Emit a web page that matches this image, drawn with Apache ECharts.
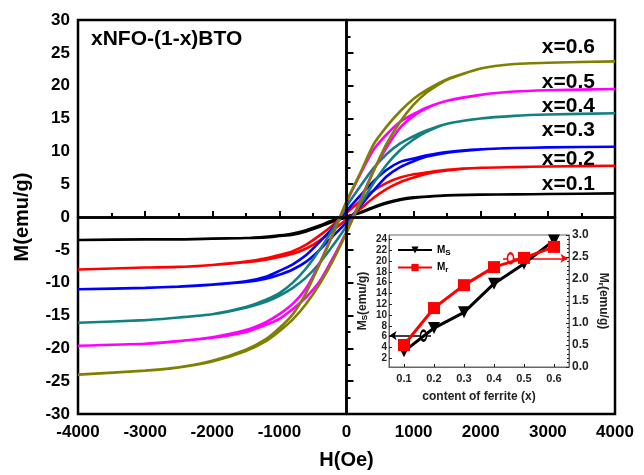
<!DOCTYPE html>
<html>
<head>
<meta charset="utf-8">
<script src="https://cdn.jsdelivr.net/npm/echarts@6/dist/echarts.min.js"></script>
<style>
  html, body { margin: 0; padding: 0; background: #fff; }
  #container { width: 644px; height: 475px; }
</style>
</head>
<body>
<div id="container"></div>
<script>
// field sweep: down branch (+4000 -> -4000) then up branch (-4000 -> +4000)
var hDown = [4000, 3000, 2500, 2000, 1500, 1200, 1000, 800, 600, 400, 200, 0,
             -200, -400, -600, -800, -1000, -1200, -1500, -2000, -2500, -3000, -4000];
var hUp = [-4000, -3000, -2500, -2000, -1500, -1200, -1000, -800, -600, -400, -200, 0,
           200, 400, 600, 800, 1000, 1200, 1500, 2000, 2500, 3000, 4000];

// M(emu/g) for each composition
var m01Down = [3.6, 3.5, 3.45, 3.4, 3.3, 3.1, 2.9, 2.6, 2.1, 1.4, 0.6, 0.1,
               -0.7, -1.5, -2.2, -2.7, -2.9, -3.1, -3.2, -3.3, -3.4, -3.4, -3.5];
var m01Up = [-3.5, -3.4, -3.4, -3.3, -3.2, -3.0, -2.8, -2.5, -2.0, -1.3, -0.5, -0.1,
             0.7, 1.5, 2.2, 2.7, 3.0, 3.1, 3.3, 3.4, 3.45, 3.5, 3.6];

var m02Down = [7.8, 7.7, 7.6, 7.5, 7.2, 6.8, 6.5, 6.0, 5.2, 4.0, 2.4, 0.6,
               -1.2, -2.8, -4.2, -5.2, -5.8, -6.3, -6.8, -7.3, -7.6, -7.7, -8.0];
var m02Up = [-8.0, -7.7, -7.6, -7.3, -6.9, -6.5, -6.1, -5.6, -4.8, -3.6, -2.0, -0.4,
             1.2, 2.9, 4.3, 5.3, 6.0, 6.6, 7.1, 7.5, 7.6, 7.7, 7.8];

var m03Down = [10.7, 10.6, 10.5, 10.3, 9.9, 9.4, 8.9, 8.4, 7.2, 5.4, 3.2, 0.9,
               -1.6, -3.8, -5.8, -7.2, -8.2, -9.1, -9.8, -10.3, -10.6, -10.8, -11.0];
var m03Up = [-11.0, -10.8, -10.6, -10.3, -9.9, -9.4, -8.8, -8.0, -6.8, -5.0, -2.9, -0.8,
             1.6, 4.0, 6.2, 7.6, 8.5, 9.2, 9.8, 10.3, 10.5, 10.6, 10.7];

var m04Down = [15.8, 15.6, 15.4, 15.0, 14.2, 13.2, 12.3, 11.2, 9.6, 7.4, 4.6, 1.6,
               -1.8, -5.0, -7.8, -10.0, -11.6, -12.6, -13.7, -14.8, -15.3, -15.7, -16.1];
var m04Up = [-16.1, -15.7, -15.3, -14.8, -13.8, -12.9, -12.0, -10.8, -9.2, -7.0, -4.3, -1.4,
             1.8, 5.1, 8.0, 10.2, 11.8, 13.0, 14.2, 15.0, 15.4, 15.6, 15.8];

var m05Down = [19.5, 19.3, 19.1, 18.6, 17.7, 16.7, 15.7, 14.5, 12.6, 10.2, 6.4, 2.2,
               -2.5, -7.0, -10.8, -13.2, -14.8, -16.0, -17.2, -18.3, -18.9, -19.3, -19.6];
var m05Up = [-19.6, -19.3, -18.9, -18.4, -17.5, -16.4, -15.5, -14.0, -12.2, -9.8, -6.2, -2.2,
             2.4, 7.0, 10.6, 13.6, 15.4, 16.6, 17.7, 18.6, 19.1, 19.3, 19.5];

var m06Down = [23.7, 23.5, 23.3, 22.6, 21.0, 19.4, 18.0, 16.1, 13.8, 11.0, 6.6, 2.4,
               -2.6, -7.2, -11.5, -14.8, -16.9, -18.6, -20.2, -21.9, -22.9, -23.4, -24.0];
var m06Up = [-24.0, -23.4, -22.9, -22.0, -20.4, -18.9, -17.4, -15.6, -13.2, -10.2, -6.6, -2.4,
             2.2, 6.9, 11.2, 14.5, 17.1, 19.0, 20.9, 22.6, 23.3, 23.5, 23.7];

// inset: saturation / remanent magnetization vs ferrite content
var ferrite = [0.1, 0.2, 0.3, 0.4, 0.5, 0.6];
var msValues = [3.3, 7.6, 10.5, 15.8, 19.5, 23.8];
var mrValues = [0.5, 1.34, 1.86, 2.27, 2.48, 2.73];
var msTicks = [2, 4, 6, 8, 10, 12, 14, 16, 18, 20, 22, 24];

var loopNames = ['x=0.1', 'x=0.2', 'x=0.3', 'x=0.4', 'x=0.5', 'x=0.6'];
var loopColors = ['#000000', '#ff0000', '#0000ff', '#138080', '#ff00ff', '#808000'];
var loopDown = [m01Down, m02Down, m03Down, m04Down, m05Down, m06Down];
var loopUp = [m01Up, m02Up, m03Up, m04Up, m05Up, m06Up];

var FONT = '"Liberation Sans", Arial, sans-serif';

function loopData(down, up) {
    var pts = [];
    hDown.forEach(function (h, i) { pts.push([h, down[i]]); });
    hUp.forEach(function (h, i) { pts.push([h, up[i]]); });
    return pts;
}

var dom = document.getElementById('container');
var myChart = echarts.init(dom);

var series = [];
// zero lines
series.push({
    type: 'line',
    xAxisIndex: 0,
    yAxisIndex: 0,
    data: [],
    z: 1,
    markLine: {
        silent: true,
        symbol: 'none',
        label: { show: false },
        lineStyle: { color: '#000', width: 2.5, type: 'solid' },
        data: [{ xAxis: 0 }, { yAxis: 0 }]
    }
});
loopNames.forEach(function (name, k) {
    series.push({
        name: name,
        type: 'line',
        xAxisIndex: 0,
        yAxisIndex: 0,
        showSymbol: false,
        smooth: 0.2,
        z: 3,
        lineStyle: { color: loopColors[k], width: 2.6 },
        itemStyle: { color: loopColors[k] },
        data: loopData(loopDown[k], loopUp[k])
    });
});
series.push({
    name: 'Ms',
    type: 'line',
    xAxisIndex: 1,
    yAxisIndex: 1,
    symbol: 'triangle',
    symbolRotate: 180,
    symbolSize: 12,
    z: 5,
    lineStyle: { color: '#000', width: 3 },
    itemStyle: { color: '#000' },
    data: ferrite.map(function (x, i) { return [x, msValues[i]]; }),
    markLine: {
        silent: true,
        symbol: ['none', 'arrow'],
        symbolSize: 7,
        label: { show: false },
        lineStyle: { color: '#000', width: 1.5, type: 'solid' },
        data: [[{ coord: [0.19, 6.2] }, { coord: [0.052, 6.2] }]]
    },
    markPoint: {
        silent: true,
        symbol: 'emptyCircle',
        symbolSize: [6, 10],
        label: { show: false },
        itemStyle: { color: '#000', borderColor: '#000', borderWidth: 1 },
        data: [{ coord: [0.165, 6.2] }]
    }
});
series.push({
    name: 'Mr',
    type: 'line',
    xAxisIndex: 1,
    yAxisIndex: 2,
    symbol: 'rect',
    symbolSize: 12,
    z: 6,
    lineStyle: { color: '#ff0000', width: 3 },
    itemStyle: { color: '#ff0000' },
    data: ferrite.map(function (x, i) { return [x, mrValues[i]]; }),
    markLine: {
        silent: true,
        symbol: ['none', 'arrow'],
        symbolSize: 7,
        label: { show: false },
        lineStyle: { color: '#ff0000', width: 1.5, type: 'solid' },
        data: [[{ coord: [0.43, 2.47] }, { coord: [0.645, 2.47] }]]
    },
    markPoint: {
        silent: true,
        symbol: 'emptyCircle',
        symbolSize: [6, 10],
        label: { show: false },
        itemStyle: { color: '#ff0000', borderColor: '#ff0000', borderWidth: 1 },
        data: [{ coord: [0.455, 2.47] }]
    }
});

var labelTops = [174, 149, 120, 96, 72, 37];
var graphics = [{
    type: 'text',
    left: 91,
    top: 29,
    style: { text: 'xNFO-(1-x)BTO', font: 'bold 21px ' + FONT, fill: '#000' }
}];
loopNames.forEach(function (name, k) {
    graphics.push({
        type: 'text',
        right: 49,
        top: labelTops[k],
        style: { text: name, font: 'bold 21px ' + FONT, fill: '#000' }
    });
});

var subRich = {
    sub: { fontSize: 8, fontWeight: 'bold', fontFamily: FONT, color: '#000', padding: [5, 0, 0, 0] }
};

option = {
    animation: false,
    backgroundColor: '#fff',
    grid: [
        { left: 78, right: 29, top: 20, bottom: 57, show: true, borderColor: '#000', borderWidth: 2.5 },
        { left: 389, right: 75, top: 235, bottom: 108, show: true, borderColor: '#666', borderWidth: 1 }
    ],
    legend: {
        data: ['Ms', 'Mr'],
        orient: 'vertical',
        left: 392,
        top: 240,
        itemWidth: 34,
        itemHeight: 9,
        itemGap: 6,
        formatter: function (n) { return n === 'Ms' ? 'M{sub|S}' : 'M{sub|r}'; },
        textStyle: { fontSize: 10, fontWeight: 'bold', fontFamily: FONT, color: '#000', rich: subRich }
    },
    xAxis: [{
        gridIndex: 0,
        type: 'value',
        min: -4000,
        max: 4000,
        interval: 1000,
        name: 'H(Oe)',
        nameLocation: 'middle',
        nameGap: 36,
        nameTextStyle: { fontSize: 20, fontWeight: 'bold', fontFamily: FONT, color: '#000' },
        axisLine: { lineStyle: { color: '#000', width: 2.5 } },
        axisTick: { inside: true, length: 6, lineStyle: { color: '#000', width: 2 } },
        minorTick: { show: true, splitNumber: 2, length: 4, lineStyle: { color: '#000', width: 2 } },
        splitLine: { show: false },
        axisLabel: { fontSize: 17, fontWeight: 'bold', fontFamily: FONT, color: '#000', margin: 10,
            formatter: function (v) { return String(v); } }
    }, {
        gridIndex: 1,
        type: 'value',
        min: 0.05,
        max: 0.65,
        name: 'content of ferrite (x)',
        nameLocation: 'middle',
        nameGap: 24,
        nameTextStyle: { fontSize: 12, fontWeight: 'bold', fontFamily: FONT, color: '#222' },
        axisLine: { lineStyle: { color: '#666', width: 1 } },
        axisTick: { inside: true, length: 3, customValues: ferrite, lineStyle: { color: '#222' } },
        splitLine: { show: false },
        axisLabel: { customValues: ferrite, fontSize: 11, fontWeight: 'bold', fontFamily: FONT, color: '#222', margin: 6 }
    }],
    yAxis: [{
        gridIndex: 0,
        type: 'value',
        min: -30,
        max: 30,
        interval: 5,
        name: 'M(emu/g)',
        nameLocation: 'middle',
        nameGap: 46,
        nameTextStyle: { fontSize: 20, fontWeight: 'bold', fontFamily: FONT, color: '#000' },
        axisLine: { lineStyle: { color: '#000', width: 2.5 } },
        axisTick: { inside: true, length: 7, lineStyle: { color: '#000', width: 2 } },
        minorTick: { show: true, splitNumber: 2, length: 4, lineStyle: { color: '#000', width: 2 } },
        splitLine: { show: false },
        axisLabel: { fontSize: 17, fontWeight: 'bold', fontFamily: FONT, color: '#000', margin: 8 }
    }, {
        gridIndex: 1,
        type: 'value',
        position: 'left',
        min: 0.4,
        max: 24.8,
        name: 'M{sub|S}(emu/g)',
        nameLocation: 'middle',
        nameGap: 20,
        nameTextStyle: { fontSize: 12, fontWeight: 'bold', fontFamily: FONT, color: '#222', rich: subRich },
        axisLine: { lineStyle: { color: '#666', width: 1 } },
        axisTick: { inside: true, length: 3, customValues: msTicks, lineStyle: { color: '#222' } },
        splitLine: { show: false },
        axisLabel: { customValues: msTicks, fontSize: 10, fontWeight: 'bold', fontFamily: FONT, color: '#222', margin: 2 }
    }, {
        gridIndex: 1,
        type: 'value',
        position: 'right',
        min: 0,
        max: 3,
        interval: 0.5,
        name: 'M{sub|r}(emu/g)',
        nameLocation: 'middle',
        nameRotate: -90,
        nameGap: 28,
        nameTextStyle: { fontSize: 12, fontWeight: 'bold', fontFamily: FONT, color: '#222', rich: subRich },
        axisLine: { lineStyle: { color: '#666', width: 1 } },
        axisTick: { inside: true, length: 3, lineStyle: { color: '#222' } },
        minorTick: { show: true, splitNumber: 5, length: 2, lineStyle: { color: '#222' } },
        splitLine: { show: false },
        axisLabel: { fontSize: 12, fontWeight: 'bold', fontFamily: FONT, color: '#222', margin: 3,
            formatter: function (v) { return v.toFixed(1); } }
    }],
    graphic: graphics,
    series: series
};

if (option && typeof option === "object") {
    myChart.setOption(option, true);
}
</script>
</body>
</html>
